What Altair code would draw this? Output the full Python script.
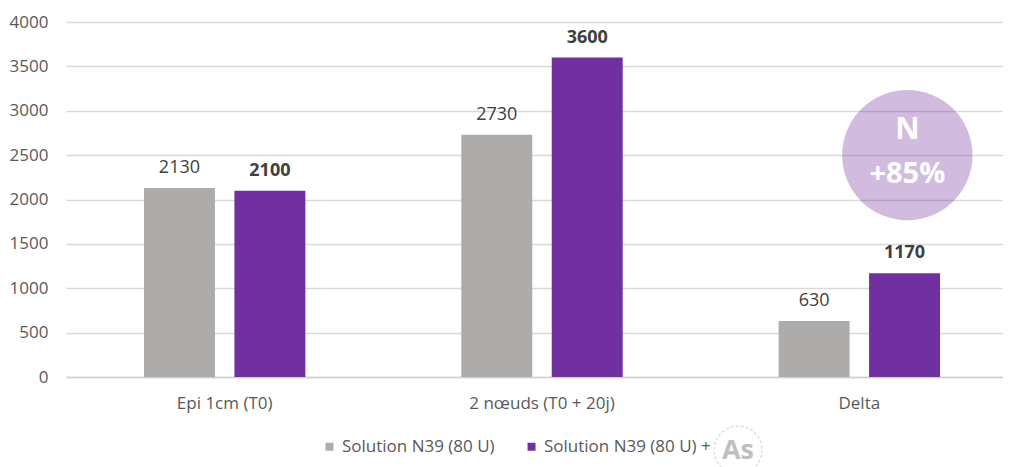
import altair as alt
import pandas as pd

categories = ["Epi 1cm (T0)", "2 nœuds (T0 + 20j)", "Delta"]
series_names = ["Solution N39 (80 U)", "Solution N39 (80 U) +"]
gray_values = [2130, 2730, 630]
purple_values = [2100, 3600, 1170]
colors = ["#aeabab", "#7030a0"]

rows = []
for c, g, p in zip(categories, gray_values, purple_values):
    rows.append({"cat": c, "series": series_names[0], "value": g})
    rows.append({"cat": c, "series": series_names[1], "value": p})
df = pd.DataFrame(rows)

FONT = "Open Sans"

x = alt.X("cat:N", sort=categories, title=None,
          scale=alt.Scale(paddingInner=0, paddingOuter=0, range=[0, 952]),
          axis=alt.Axis(labelAngle=0, labelFontSize=17, labelColor="#595959", labelFont=FONT,
                        labelPadding=18, ticks=False, domainColor="#d0d0d0", domainWidth=1.5,
                        grid=False))
xoff = alt.XOffset("series:N", sort=series_names,
                   scale=alt.Scale(paddingInner=0.2155, paddingOuter=0.862))
y = alt.Y("value:Q", title=None,
          scale=alt.Scale(domain=[0, 4000]),
          axis=alt.Axis(values=list(range(0, 4001, 500)), format="d", labelFontSize=17,
                        labelColor="#595959", labelFont=FONT, labelPadding=18, ticks=False,
                        domain=False, gridColor="#d9d9d9", gridWidth=1.5))
color = alt.Color("series:N", sort=series_names,
                  scale=alt.Scale(domain=series_names, range=colors),
                  legend=alt.Legend(title=None, orient="none", legendX=255, legendY=416,
                                    direction="horizontal", symbolType="square", symbolSize=64,
                                    labelFontSize=17, labelColor="#595959", labelFont=FONT,
                                    columnPadding=28, symbolStrokeWidth=0, labelOffset=4,
                                    labelLimit=400))

base = alt.Chart(df)
bars = base.mark_bar().encode(x=x, xOffset=xoff, y=y, color=color)

lbl_gray = base.transform_filter(alt.datum.series == series_names[0]).mark_text(
    baseline="alphabetic", dy=-15, fontSize=18, font=FONT, color="#404040"
).encode(x=x, xOffset=xoff, y=y, text="value:Q")
lbl_purple = base.transform_filter(alt.datum.series == series_names[1]).mark_text(
    baseline="alphabetic", dy=-15, fontSize=18, font=FONT, fontWeight="bold", color="#404040"
).encode(x=x, xOffset=xoff, y=y, text="value:Q")

badge_df = pd.DataFrame({"cat": ["Delta"], "value": [2500]})
bx = alt.X("cat:N", sort=categories)
by = alt.Y("value:Q")
badge = alt.Chart(badge_df).mark_circle(size=17000, color="#7030a0", opacity=0.32, xOffset=48).encode(
    x=bx, y=by)
badge_n = alt.Chart(badge_df).mark_text(text="N", fontSize=30, fontWeight="bold", color="white",
                                        font=FONT, xOffset=48, dy=-25, baseline="middle").encode(
    x=bx, y=by)
badge_p = alt.Chart(badge_df).mark_text(text="+85%", fontSize=29, fontWeight="bold", color="white",
                                        font=FONT, xOffset=48, dy=19, baseline="middle").encode(
    x=bx, y=by)

as_circle = alt.Chart(badge_df).mark_point(shape="circle", size=2300, filled=False, color="#c8c8c8",
                                           strokeDash=[3, 2], strokeWidth=1.2, clip=False).encode(
    x=alt.value(672), y=alt.value(428))
as_text = alt.Chart(badge_df).mark_text(text="As", fontSize=27, fontWeight="bold", color="#bfbfbf",
                                        font=FONT, clip=False, baseline="middle").encode(
    x=alt.value(672), y=alt.value(429))

chart = alt.layer(bars, lbl_gray, lbl_purple, badge, badge_n, badge_p, as_circle, as_text).properties(
    width=937, height=355,
    autosize=alt.AutoSizeParams(type="none"),
    padding={"left": 58, "top": 14, "right": 0, "bottom": 90},
).configure_view(stroke=None)

chart.save("out.html", embed_options={"renderer": "svg", "actions": False})
